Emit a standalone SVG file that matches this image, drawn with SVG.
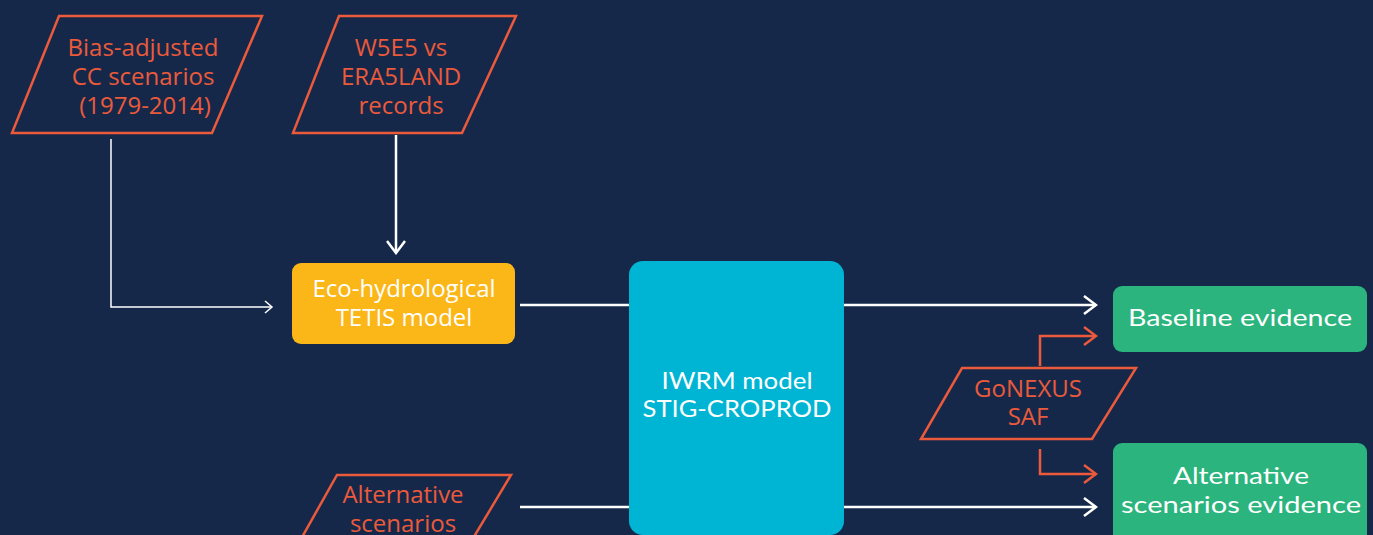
<svg xmlns="http://www.w3.org/2000/svg" width="1373" height="535" viewBox="0 0 1373 535">
<defs>
<style>
.bg{fill:#15284a}
.para{fill:none;stroke:#ea5a3b;stroke-width:2.5}
.otxt{font-family:"Open Sans","Noto Sans",sans-serif;font-size:24px;fill:#ea5a3b;text-anchor:middle}
.wtxt{font-family:"Open Sans","Noto Sans",sans-serif;font-size:24px;fill:#ffffff;text-anchor:middle}
.rtxt{font-family:"Lato","Inter",sans-serif;font-size:24px;fill:#ffffff;text-anchor:middle}
.wl{fill:none;stroke:#ffffff;stroke-width:2.5}
.wlt{fill:none;stroke:#ffffff;stroke-width:1.5}
.ol{fill:none;stroke:#ea5a3b;stroke-width:2.5}
</style>
<marker id="aw" viewBox="-14 -11 16 22" markerWidth="16" markerHeight="22" refX="0" refY="0" orient="auto" markerUnits="userSpaceOnUse">
<path d="M-12,-9 L0,0 L-12,9" fill="none" stroke="#ffffff" stroke-width="2.5"/>
</marker>
<marker id="awt" viewBox="-10 -8 12 16" markerWidth="12" markerHeight="16" refX="0" refY="0" orient="auto" markerUnits="userSpaceOnUse">
<path d="M-7,-6 L0,0 L-7,6" fill="none" stroke="#ffffff" stroke-width="1.5"/>
</marker>
<marker id="ao" viewBox="-14 -11 16 22" markerWidth="16" markerHeight="22" refX="0" refY="0" orient="auto" markerUnits="userSpaceOnUse">
<path d="M-12,-9 L0,0 L-12,9" fill="none" stroke="#ea5a3b" stroke-width="2.5"/>
</marker>
</defs>
<rect class="bg" x="0" y="0" width="1373" height="535"/>

<g id="connectors">
<path class="wlt" d="M111,139 L111,307 L272,307" marker-end="url(#awt)"/>
<path class="wl" d="M396,135 L396,253" marker-end="url(#aw)"/>
<path class="wl" d="M520,305 L629,305"/>
<path class="wl" d="M844,305 L1096,305" marker-end="url(#aw)"/>
<path class="wl" d="M520,507 L629,507"/>
<path class="wl" d="M844,507 L1096,507" marker-end="url(#aw)"/>
<path class="ol" d="M1040,366 L1040,336 L1096,336" marker-end="url(#ao)"/>
<path class="ol" d="M1040,449 L1040,474 L1096,474" marker-end="url(#ao)"/>
</g>

<g id="bias">
<polygon class="para" points="59,16 262,16 212,133 12,133"/>
<text class="otxt" x="143" y="56">Bias-adjusted</text>
<text class="otxt" x="143" y="85">CC scenarios</text>
<text class="otxt" x="145" y="114">(1979-2014)</text>
</g>

<g id="w5e5">
<polygon class="para" points="339,16 516,16 462,133 293,133"/>
<text class="otxt" x="401" y="56">W5E5 vs</text>
<text class="otxt" x="401" y="85">ERA5LAND</text>
<text class="otxt" x="401" y="114">records</text>
</g>

<g id="tetis">
<rect x="292" y="263" width="223" height="81" rx="9" fill="#fbb618"/>
<text class="wtxt" x="404" y="297">Eco-hydrological</text>
<text class="wtxt" x="404" y="326">TETIS model</text>
</g>

<g id="iwrm">
<rect x="629" y="261" width="215" height="274" rx="14" fill="#00b5d4"/>
<text class="rtxt" x="737" y="389" textLength="151" lengthAdjust="spacingAndGlyphs">IWRM model</text>
<text class="rtxt" x="737" y="417" textLength="189" lengthAdjust="spacingAndGlyphs">STIG-CROPROD</text>
</g>

<g id="alt-scen">
<polygon class="para" points="337,475 511,475 463,555 292,555"/>
<text class="otxt" x="403" y="503">Alternative</text>
<text class="otxt" x="403" y="532">scenarios</text>
</g>

<g id="gonexus">
<polygon class="para" points="962,368 1136,368 1092,439 921,439"/>
<text class="otxt" x="1028" y="397">GoNEXUS</text>
<text class="otxt" x="1028" y="425">SAF</text>
</g>

<g id="baseline">
<rect x="1113" y="286" width="254" height="66" rx="9" fill="#2bb47d"/>
<text class="rtxt" x="1240" y="326" textLength="224" lengthAdjust="spacingAndGlyphs">Baseline evidence</text>
</g>

<g id="alt-evidence">
<rect x="1113" y="443" width="254" height="110" rx="9" fill="#2bb47d"/>
<text class="rtxt" x="1241" y="484" textLength="136" lengthAdjust="spacingAndGlyphs">Alternative</text>
<text class="rtxt" x="1241" y="513" textLength="240" lengthAdjust="spacingAndGlyphs">scenarios evidence</text>
</g>
</svg>
